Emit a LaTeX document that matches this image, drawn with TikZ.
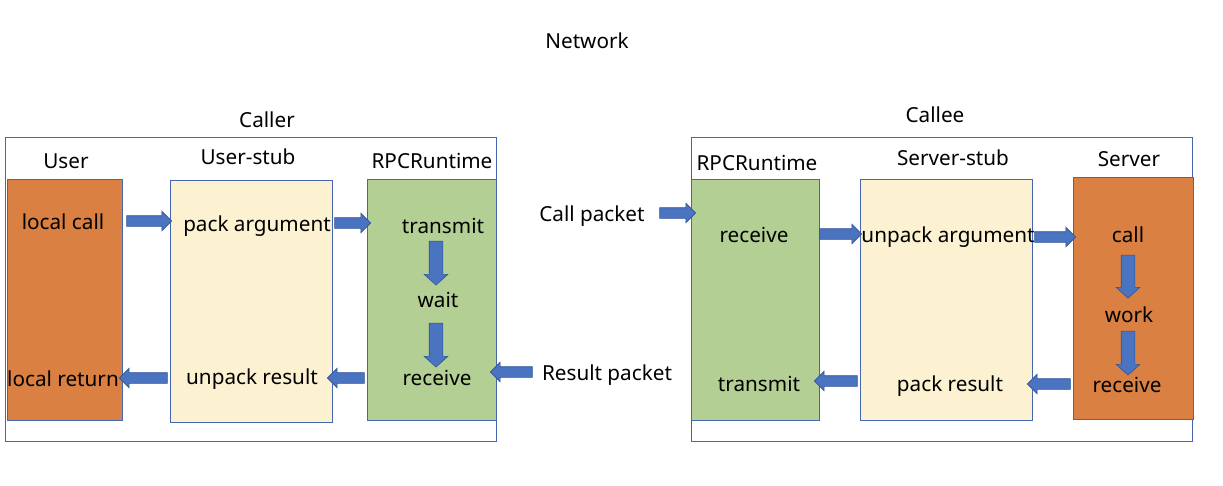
\documentclass[tikz,border=0pt]{standalone}
\usepackage{fontspec}
\setmainfont{Noto Sans}
\usetikzlibrary{shapes.arrows,calc}
\definecolor{orangebox}{HTML}{DA8042}
\definecolor{yellowbox}{HTML}{FCF1D0}
\definecolor{greenbox}{HTML}{B3CF94}
\definecolor{frameblue}{HTML}{4566B0}
\definecolor{arrowfill}{HTML}{4A73C0}
\definecolor{arrowline}{HTML}{30549A}
\newcommand\blockarrow[3]{%
  \path let \p1=(#2), \p2=(#3), \n1={veclen(\x2-\x1,\y2-\y1)} in
    (#2) -- (#3) node[#1, midway, sloped, allow upside down, minimum height=\n1]{};}
\begin{document}
\begin{tikzpicture}[x=1pt,y=-1pt, font=\fontsize{20.7}{24}\selectfont,
  box/.style={draw=frameblue, line width=0.9pt, inner sep=0pt},
  lbl/.style={inner sep=0pt, anchor=base},
  barrow/.style={single arrow, draw=arrowline, fill=arrowfill, line width=0.6pt,
    inner xsep=0pt, inner ysep=5pt, single arrow head extend=4.5pt,
    single arrow tip angle=90, minimum width=0pt, shape border uses incircle=false},
  varrow/.style={barrow, inner ysep=6.5pt, single arrow head extend=5pt, single arrow tip angle=96}]
\useasboundingbox (0,0) rectangle (1223,485);

% frames
\node[box, minimum width=491pt, minimum height=304pt] (callerframe) at (250.5,289) {};
\node[box, minimum width=501pt, minimum height=304pt] (calleeframe) at (941.5,289) {};

% boxes
\node[box, fill=orangebox, minimum width=115pt, minimum height=241pt] (user) at (64.5,299.5) {};
\node[box, fill=yellowbox, minimum width=162pt, minimum height=242pt] (ustub) at (251,301) {};
\node[box, fill=greenbox, minimum width=129pt, minimum height=241pt] (rpcl) at (431.5,299.5) {};
\node[box, fill=greenbox, minimum width=128pt, minimum height=241pt] (rpcr) at (755,299.5) {};
\node[box, fill=yellowbox, minimum width=172pt, minimum height=241pt] (sstub) at (946,299.5) {};
\node[box, fill=orangebox, minimum width=120pt, minimum height=242pt] (server) at (1133,298) {};

% titles
\node[lbl] (network) at (587,48) {Network};
\node[lbl] (caller) at (267,127) {Caller};
\node[lbl] (callee) at (935,122) {Callee};
\node[lbl] (tuser) at (66,168) {User};
\node[lbl] (tustub) at (248,164) {User-stub};
\node[lbl] (trpcl) at (432,168) {RPCRuntime};
\node[lbl] (trpcr) at (757,170) {RPCRuntime};
\node[lbl] (tsstub) at (953,165) {Server-stub};
\node[lbl] (tserver) at (1129,166) {Server};

% texts
\node[lbl] (localcall) at (63,229) {local call};
\node[lbl] (localreturn) at (63,386) {local return};
\node[lbl] (packarg) at (257,231) {pack argument};
\node[lbl] (unpackres) at (252,384) {unpack result};
\node[lbl] (ltransmit) at (443,233) {transmit};
\node[lbl] (lwait) at (438,307) {wait};
\node[lbl] (lreceive) at (437,385) {receive};
\node[lbl] (callpacket) at (592,221) {Call packet};
\node[lbl] (resultpacket) at (607,380) {Result packet};
\node[lbl] (rreceive) at (754,242) {receive};
\node[lbl] (rtransmit) at (759,391) {transmit};
\node[lbl] (unpackarg) at (948,242) {unpack argument};
\node[lbl] (packres) at (950,391) {pack result};
\node[lbl] (scall) at (1128,242) {call};
\node[lbl] (swork) at (1129,322) {work};
\node[lbl] (sreceive) at (1127,392) {receive};

% arrow end points
\coordinate (a1s) at (124,221); \coordinate (a1e) at (169,221);
\coordinate (a2s) at (332,223); \coordinate (a2e) at (368,223);
\coordinate (a3s) at (367,378); \coordinate (a3e) at (330,378);
\coordinate (a4s) at (170,378); \coordinate (a4e) at (122,378);
\coordinate (a5s) at (436,238); \coordinate (a5e) at (436,282);
\coordinate (a6s) at (436,320); \coordinate (a6e) at (436,364);
\coordinate (a7s) at (657,213); \coordinate (a7e) at (693,213);
\coordinate (a8s) at (535,372); \coordinate (a8e) at (493,372);
\coordinate (a9s) at (817,234); \coordinate (a9e) at (859,234);
\coordinate (a10s) at (1032,237); \coordinate (a10e) at (1073,237);
\coordinate (a11s) at (1073,384); \coordinate (a11e) at (1030,384);
\coordinate (a12s) at (860,381); \coordinate (a12e) at (817,381);
\coordinate (a13s) at (1128,252); \coordinate (a13e) at (1128,295);
\coordinate (a14s) at (1128,328); \coordinate (a14e) at (1128,372);

\blockarrow{barrow}{a1s}{a1e}
\blockarrow{barrow}{a2s}{a2e}
\blockarrow{barrow}{a3s}{a3e}
\blockarrow{barrow}{a4s}{a4e}
\blockarrow{varrow}{a5s}{a5e}
\blockarrow{varrow}{a6s}{a6e}
\blockarrow{barrow}{a7s}{a7e}
\blockarrow{barrow}{a8s}{a8e}
\blockarrow{barrow}{a9s}{a9e}
\blockarrow{barrow}{a10s}{a10e}
\blockarrow{barrow}{a11s}{a11e}
\blockarrow{barrow}{a12s}{a12e}
\blockarrow{varrow}{a13s}{a13e}
\blockarrow{varrow}{a14s}{a14e}
\end{tikzpicture}
\end{document}
